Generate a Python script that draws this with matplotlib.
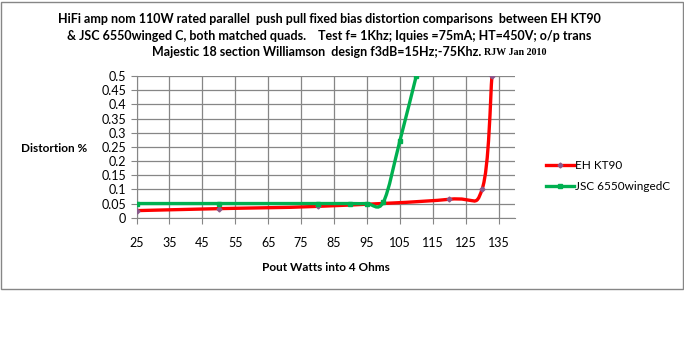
import numpy as np
import matplotlib
matplotlib.use("Agg")
import matplotlib.pyplot as plt
from matplotlib.path import Path
from matplotlib.patches import PathPatch, Rectangle
from matplotlib.lines import Line2D

# data
kt90_watts = [25, 50, 80, 120, 130, 133]
kt90_dist = [0.025, 0.032, 0.04, 0.065, 0.1, 0.5]
jsc_watts = [25, 50, 80, 90, 95, 100, 105, 110]
jsc_dist = [0.05, 0.05, 0.05, 0.05, 0.05, 0.055, 0.27, 0.5]
x_ticks = [25, 35, 45, 55, 65, 75, 85, 95, 105, 115, 125, 135]
y_ticks = [0, 0.05, 0.1, 0.15, 0.2, 0.25, 0.3, 0.35, 0.4, 0.45, 0.5]
series_names = ["EH KT90", "JSC 6550wingedC"]

RED = "#FF0000"
GREEN = "#00B050"
GRID = "#868686"
FONT = "Lato"


def smooth_path(xs, ys):
    # excel style smoothed line: bezier segments with catmull-rom control points
    pts = np.column_stack([xs, ys]).astype(float)
    n = len(pts)
    verts = [pts[0]]
    codes = [Path.MOVETO]
    for i in range(n - 1):
        p0 = pts[max(i - 1, 0)]
        p1 = pts[i]
        p2 = pts[i + 1]
        p3 = pts[min(i + 2, n - 1)]
        verts += [p1 + (p2 - p0) / 6, p2 - (p3 - p1) / 6, p2]
        codes += [Path.CURVE4] * 3
    return Path(verts, codes)


fig = plt.figure(figsize=(6.84, 3.57), dpi=100)
fig.patches.append(Rectangle((1 / 684, 1 - 289 / 357), 682 / 684, 287 / 357,
                             transform=fig.transFigure, fill=False,
                             edgecolor=GRID, linewidth=1))

ax = fig.add_axes([136.5 / 684, 1 - 217.7 / 357, 378.5 / 684, 141.7 / 357])
ax.set_xlim(25, 140)
ax.set_ylim(0, 0.5)

ax.add_patch(PathPatch(smooth_path(kt90_watts, kt90_dist), fill=False,
                       edgecolor=RED, linewidth=2.4, zorder=3))
ax.plot(kt90_watts, kt90_dist, linestyle="none", marker="D", markersize=2.5,
        color="#8A5A8C", zorder=4)
ax.add_patch(PathPatch(smooth_path(jsc_watts, jsc_dist), fill=False,
                       edgecolor=GREEN, linewidth=2.4, zorder=5))
ax.plot(jsc_watts, jsc_dist, linestyle="none", marker="s", markersize=3.5,
        color=GREEN, zorder=6)

ax.set_xticks(x_ticks)
ax.set_yticks(y_ticks)
ax.set_yticklabels(["%g" % v for v in y_ticks])
ax.grid(True, color=GRID, linewidth=0.9)
ax.set_axisbelow(True)
for side in ["top", "right"]:
    ax.spines[side].set_visible(False)
for side in ["left", "bottom"]:
    ax.spines[side].set_color(GRID)
ax.tick_params(axis="both", colors=GRID, length=4, labelcolor="black",
               labelsize=9)
ax.tick_params(axis="x", pad=10)
for lab in ax.get_xticklabels() + ax.get_yticklabels():
    lab.set_fontfamily(FONT)

ax.set_xlabel("Pout Watts into 4 Ohms", fontfamily=FONT, fontweight="bold",
              fontsize=8.5, labelpad=9)
fig.text(54 / 684, 1 - 148 / 357, "Distortion %", fontfamily=FONT,
         fontweight="bold", fontsize=8.5, ha="center", va="center")

title_kw = dict(fontfamily=FONT, fontweight="bold", fontsize=9,
                ha="center", va="center")
fig.text(329 / 684, 1 - 19 / 357,
         "HiFi amp nom 110W rated parallel  push pull fixed bias distortion comparisons  between EH KT90",
         **title_kw)
fig.text(329 / 684, 1 - 36 / 357,
         "& JSC 6550winged C, both matched quads.    Test f= 1Khz; Iquies =75mA; HT=450V; o/p trans",
         **title_kw)
fig.text(481 / 684, 1 - 52 / 357,
         "Majestic 18 section Williamson  design f3dB=15Hz;-75Khz.",
         fontfamily=FONT, fontweight="bold", fontsize=9, ha="right", va="center")
fig.text(484 / 684, 1 - 52.5 / 357, "RJW Jan 2010", fontfamily="Liberation Serif",
         fontweight="bold", fontsize=7.2, ha="left", va="center")

handles = [
    Line2D([], [], color=RED, linewidth=2.4, marker="D", markersize=2.5,
           markerfacecolor="#8A5A8C", markeredgecolor="#8A5A8C"),
    Line2D([], [], color=GREEN, linewidth=2.4, marker="s", markersize=3.5),
]
fig.legend(handles, series_names, loc="center left",
           bbox_to_anchor=(541 / 684, 1 - 176 / 357), frameon=False,
           handlelength=2.4, handletextpad=0.05, labelspacing=0.9,
           borderaxespad=0, prop={"family": FONT, "size": 8.5})

fig.savefig("out.png", dpi=100)
